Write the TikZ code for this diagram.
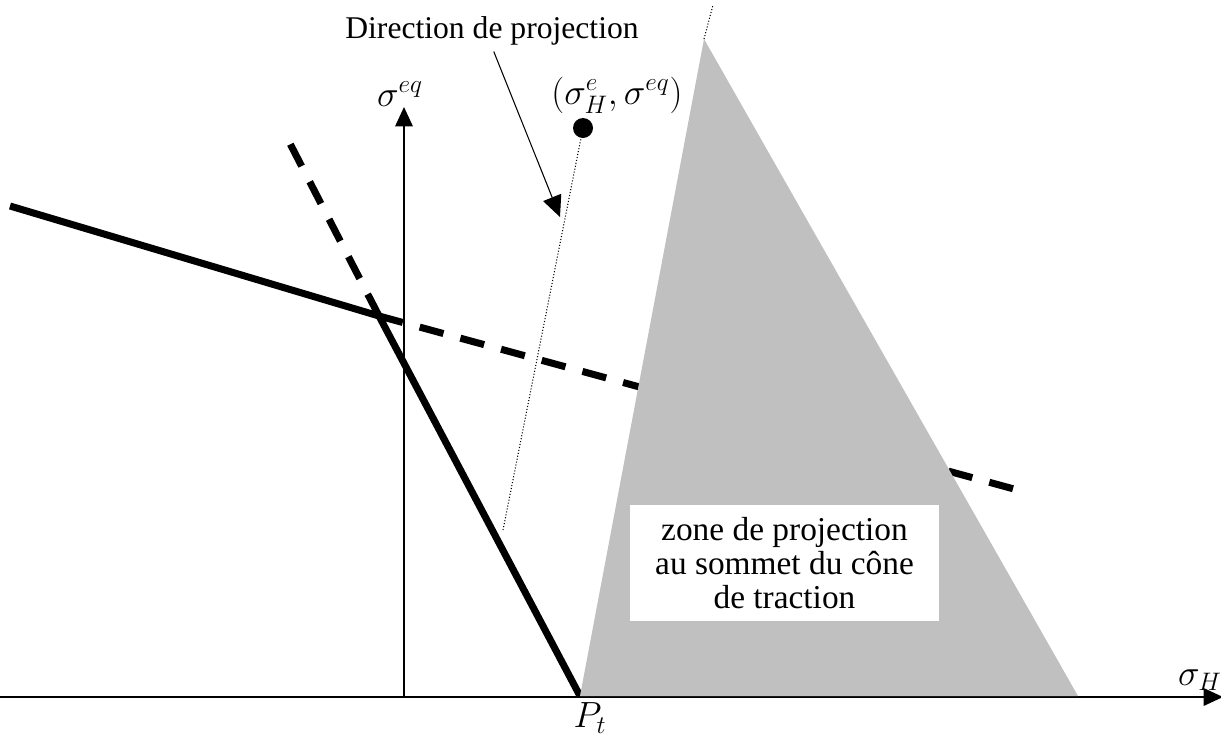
\documentclass[tikz,border=0pt]{standalone}
\usepackage{fontspec}
\setmainfont{Liberation Serif}
\usetikzlibrary{arrows.meta}
\definecolor{conegray}{RGB}{192,192,192}

\begin{document}
\begin{tikzpicture}[x=0.02cm,y=-0.02cm,
    thickline/.style={line width=4pt},
    dashline/.style={line width=4pt, dash pattern=on 14pt off 10pt},
    dotline/.style={line width=0.6pt, dash pattern=on 0.6pt off 1.1pt},
    axis/.style={line width=0.8pt, -{Triangle[length=11pt,width=10pt]}}]
    \useasboundingbox (0,0) rectangle (1221,744);
    \clip (0,0) rectangle (1221,744);

    % axes
    \coordinate (xstart) at (0,697); \coordinate (xend) at (1223,697);
    \coordinate (ybase) at (404,697); \coordinate (ytop) at (404,107);
    \draw[axis] (xstart) -- (xend);
    \draw[axis] (ybase) -- (ytop);

    % criterion lines
    \coordinate (left) at (10,206); \coordinate (kink) at (379,316);
    \coordinate (Pt) at (580,696); \coordinate (upper) at (283,130);
    \coordinate (right) at (1025,492);
    \draw[dashline] (kink) -- (upper);
    \draw[dashline] (kink) -- (right);
    \draw[thickline] (left) -- (kink) -- (Pt);

    % direction of projection
    \coordinate (foot) at (503,530); \coordinate (state) at (583,128);
    \draw[dotline] (foot) -- (state);

    % zone of projection (cone)
    \coordinate (apex) at (704,39); \coordinate (far) at (1078,696);
    \coordinate (sky) at (713,5);
    \fill[conegray] (Pt) -- (apex) -- (far) -- cycle;
    \draw[dotline] (apex) -- (sky);
    \node[fill=white, minimum width=6.18cm, minimum height=2.32cm,
      align=center, font=\fontsize{19}{19.5}\selectfont] (zone) at (784.5,563)
      {zone de projection\\au sommet du cône\\de traction};

    % stress state
    \fill (state) circle (10);
    \node[inner sep=0pt] (statelabel) at (617,95) {\fontsize{20}{24}\selectfont
      $\left(\sigma_H^{e},\sigma^{eq}\right)$};

    % labels
    \node (seq) at (400,94) {\fontsize{20}{24}\selectfont $\sigma^{eq}$};
    \node (sH) at (1200,680) {\fontsize{20}{24}\selectfont $\sigma_H$};
    \node (Ptlabel) at (590,718) {\fontsize{20}{24}\selectfont $P_t$};
    \node[font=\fontsize{18}{21}\selectfont] (dirlabel) at (492,31)
      {Direction de projection};
    \coordinate (tip) at (560,217);
    \draw[line width=0.6pt, -{Triangle[length=12pt,width=11pt]}]
      ([xshift=1pt]dirlabel.south) -- (tip);
\end{tikzpicture}
\end{document}
